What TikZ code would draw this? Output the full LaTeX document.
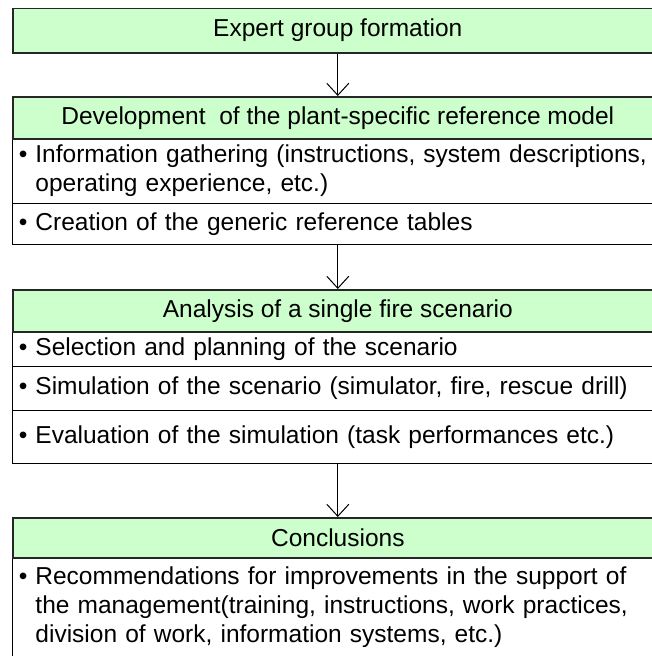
\documentclass[tikz,border=0pt]{standalone}
\usepackage{fontspec}
\setmainfont{Liberation Sans}
\usetikzlibrary{arrows.meta}
\definecolor{hdrgreen}{HTML}{CCFFCC}
\newcommand\bul{\llap{\textbullet\hspace{8pt}}}
\begin{document}
\begin{tikzpicture}[x=1pt,y=-1pt,
  txt/.style={font=\fontsize{24.5}{29}\selectfont},
  hdr/.style={txt, draw=black!85, line width=1.6pt, fill=hdrgreen, minimum width=650pt, inner sep=0pt, anchor=north west},
  cell/.style={txt, draw, line width=0.9pt, minimum width=650pt, inner xsep=23pt, inner ysep=0pt, text width=640pt, align=left, anchor=north west},
  flow/.style={-{Straight Barb[length=12pt,width=22pt]}, line width=1pt}]
\useasboundingbox (0,0) rectangle (651,656);
% cells
\node[cell, minimum height=65pt] (c21) at (12,138) {\bul Information gathering (instructions, system descriptions,\\operating experience, etc.)};
\node[cell, minimum height=41pt] (c22) at (12,203) {\bul Creation of the generic reference tables};
\node[cell, minimum height=35pt] (c31) at (12,331) {\bul Selection and planning of the scenario};
\node[cell, minimum height=44pt] (c32) at (12,366) {\bul Simulation of the scenario (simulator, fire, rescue drill)};
\node[cell, minimum height=53pt] (c33) at (12,410) {\bul Evaluation of the simulation (task performances etc.)};
\node[cell, minimum height=99pt] (c41) at (12,557) {\bul Recommendations for improvements in the support of\\the management(training, instructions, work practices,\\division of work, information systems, etc.)};
% headers
\node[hdr, minimum height=44.5pt] (h1) at (12,7.5) {Expert group formation};
\node[hdr, minimum height=42pt] (h2) at (12,96) {Development\ \ of the plant-specific reference model};
\node[hdr, minimum height=42pt] (h3) at (12,289) {Analysis of a single fire scenario};
\node[hdr, minimum height=40pt] (h4) at (12,517) {Conclusions};
% connectors
\draw[flow] (h1.south) -- (h2.north);
\draw[flow] (h3.north |- c22.south) -- (h3.north);
\draw[flow] (h4.north |- c33.south) -- (h4.north);
\end{tikzpicture}
\end{document}
